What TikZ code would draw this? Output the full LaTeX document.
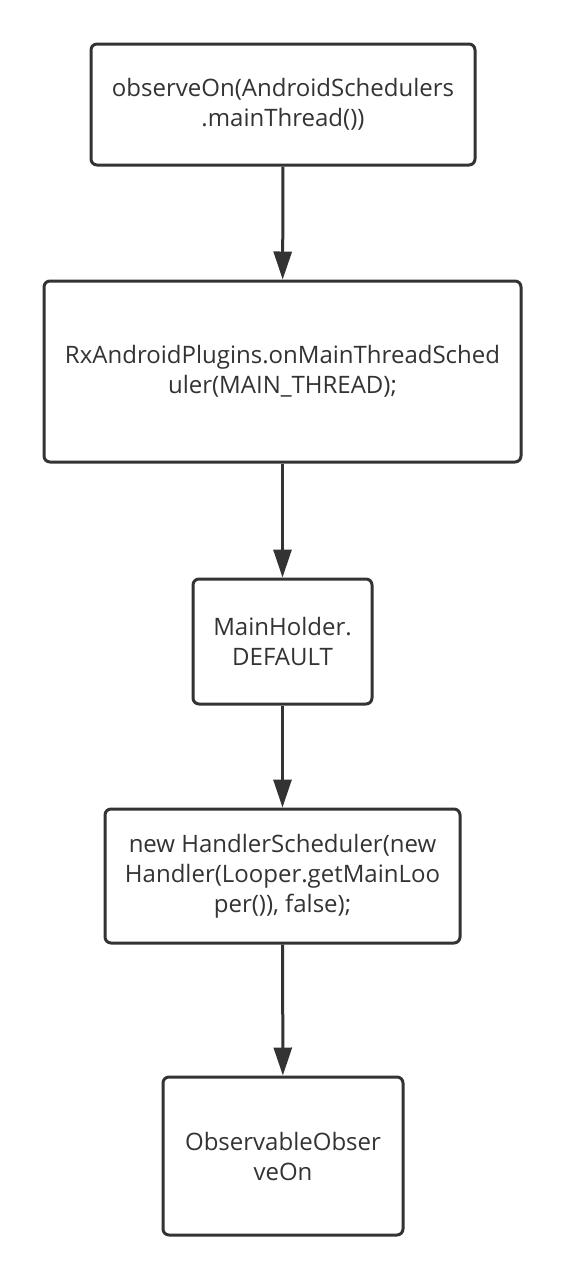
\documentclass[tikz,border=0pt]{standalone}
\usepackage{fontspec}
\setmainfont{Open Sans}
\usetikzlibrary{arrows.meta}
\definecolor{linegray}{HTML}{333333}
\begin{document}
\begin{tikzpicture}[x=1pt,y=-1pt,
  flowbox/.style={draw=linegray,line width=3pt,rounded corners=6pt,fill=white,
    align=center,text=linegray,font=\fontsize{24}{30}\selectfont,inner sep=0pt},
  flowarrow/.style={draw=linegray,line width=3pt,-{Triangle[width=18pt,length=28pt]}}]
\useasboundingbox (0,0) rectangle (565,1280);
\node[flowbox,minimum width=384pt,minimum height=121pt] (a) at (283,104.5) {observeOn(AndroidSchedulers\\.mainThread())};
\node[flowbox,minimum width=477pt,minimum height=181pt] (b) at (282.5,371.5) {RxAndroidPlugins.onMainThreadSched\\uler(MAIN\_THREAD);};
\node[flowbox,minimum width=179pt,minimum height=125pt] (c) at (282.5,641.5) {MainHolder.\\DEFAULT};
\node[flowbox,minimum width=355pt,minimum height=134pt] (d) at (282.5,876) {new HandlerScheduler(new\\Handler(Looper.getMainLoo\\per()), false);};
\node[flowbox,minimum width=240pt,minimum height=158pt] (e) at (283,1156) {ObservableObser\\veOn};
\draw[flowarrow] (a) -- (b);
\draw[flowarrow] (b) -- (c);
\draw[flowarrow] (c) -- (d);
\draw[flowarrow] (d) -- (e);
\end{tikzpicture}
\end{document}
